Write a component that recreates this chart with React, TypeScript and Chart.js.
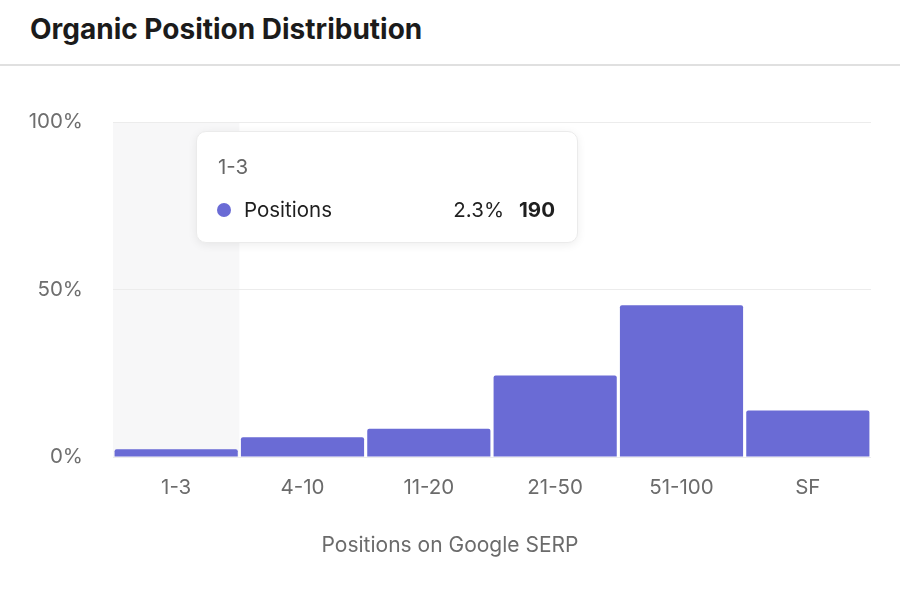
import { useEffect, useRef, useState } from 'react';
import { Chart, registerables } from 'chart.js';

Chart.register(...registerables);

// Values
const positionRanges = ['1-3', '4-10', '11-20', '21-50', '51-100', 'SF'];
const positionShares = [2.3, 5.9, 8.4, 24.3, 45.3, 13.9];
const positionCounts = [190, 487, 694, 2007, 3742, 1148];
const yTicks = [0, 50, 100];

const BAR_COLOR = '#6a6bd5';
const FONT = 'Inter, "Noto Sans", sans-serif';

// draws the light band behind the hovered category
const hoverBand = {
  id: 'hoverBand',
  beforeDraw(chart: Chart) {
    const active = chart.getActiveElements();
    if (!active.length) return;
    const { ctx, chartArea } = chart;
    const x = chart.scales.x;
    const step = (x.right - x.left) / positionRanges.length;
    const cx = x.getPixelForValue(active[0].index);
    ctx.save();
    ctx.fillStyle = '#f7f7f8';
    ctx.fillRect(cx - step / 2, chartArea.top, step, chartArea.bottom - chartArea.top);
    ctx.restore();
  },
};

interface TipState {
  index: number;
  left: number;
  top: number;
}

export default function App() {
  const canvasRef = useRef<HTMLCanvasElement>(null);
  const chartRef = useRef<Chart | null>(null);
  const [tip, setTip] = useState<TipState | null>(null);

  useEffect(() => {
    if (!canvasRef.current) return;
    const ctx = canvasRef.current.getContext('2d');
    if (!ctx) return;

    chartRef.current = new Chart(ctx, {
      type: 'bar',
      data: {
        labels: positionRanges,
        datasets: [
          {
            label: 'Positions',
            data: positionShares,
            backgroundColor: BAR_COLOR,
            hoverBackgroundColor: BAR_COLOR,
            borderRadius: 2,
            barPercentage: 0.975,
            categoryPercentage: 1,
          },
        ],
      },
      options: {
        responsive: true,
        maintainAspectRatio: false,
        animation: false,
        events: [],
        layout: { padding: { top: 55, right: 29, bottom: 91, left: 0 } },
        plugins: {
          legend: { display: false },
          tooltip: {
            enabled: false,
            external: ({ chart, tooltip }) => {
              if (!tooltip.opacity || !tooltip.dataPoints?.length) return;
              const index = tooltip.dataPoints[0].dataIndex;
              const left = Math.round(chart.scales.x.getPixelForValue(index) + 20);
              const top = Math.round(chart.chartArea.top + 9);
              setTip((prev) =>
                prev && prev.index === index && prev.left === left && prev.top === top
                  ? prev
                  : { index, left, top }
              );
            },
          },
        },
        scales: {
          x: {
            afterFit: (scale) => {
              scale.height = 60;
            },
            grid: { display: false },
            border: { display: false },
            ticks: {
              padding: 11,
              color: '#6b6b6b',
              font: { family: FONT, size: 20.5 },
            },
          },
          y: {
            min: 0,
            max: 100,
            afterFit: (scale) => {
              scale.width = 113;
            },
            afterBuildTicks: (scale) => {
              scale.ticks = yTicks.map((value) => ({ value }));
            },
            grid: { color: '#ececec', drawTicks: false },
            border: { display: false },
            ticks: {
              padding: 30,
              color: '#6e6e6e',
              font: { family: FONT, size: 20.5 },
              callback: (v) => `${v}%`,
            },
          },
        },
      },
      plugins: [hoverBand],
    });

    const chart = chartRef.current;
    const active = [{ datasetIndex: 0, index: 0 }];
    chart.setActiveElements(active);
    chart.tooltip?.setActiveElements(active, { x: 175, y: 300 });
    chart.update();

    return () => {
      chart.destroy();
      chartRef.current = null;
    };
  }, []);

  return (
    <div
      style={{
        position: 'fixed',
        left: 0,
        top: 0,
        width: 900,
        height: 608,
        background: '#fff',
        fontFamily: FONT,
        overflow: 'hidden',
      }}
    >
      <div
        style={{
          position: 'absolute',
          left: 30,
          top: 11,
          fontSize: 28,
          lineHeight: '36px',
          fontWeight: 700,
          color: '#1b1b1b',
        }}
      >
        Organic Position Distribution
      </div>
      <div
        style={{
          position: 'absolute',
          left: 0,
          top: 64,
          width: 900,
          height: 2,
          background: '#e0e0e0',
        }}
      />
      <div style={{ position: 'absolute', left: 0, top: 67, width: 900, height: 541 }}>
        <canvas ref={canvasRef} />
        {tip && (
          <div
            style={{
              position: 'absolute',
              left: tip.left,
              top: tip.top,
              width: 382,
              height: 112,
              boxSizing: 'border-box',
              background: '#fff',
              border: '1px solid #ebebeb',
              borderRadius: 10,
              boxShadow: '0 2px 10px rgba(0,0,0,0.07)',
              fontSize: 20.5,
            }}
          >
            <div style={{ position: 'absolute', left: 21, top: 22, color: '#666', lineHeight: '26px' }}>
              {positionRanges[tip.index]}
            </div>
            <div
              style={{
                position: 'absolute',
                left: 20,
                right: 22,
                top: 65,
                display: 'flex',
                alignItems: 'center',
                lineHeight: '26px',
                color: '#1f1f1f',
              }}
            >
              <span
                style={{
                  width: 14,
                  height: 14,
                  borderRadius: '50%',
                  background: BAR_COLOR,
                  marginRight: 13,
                }}
              />
              <span style={{ flex: 1 }}>Positions</span>
              <span>{positionShares[tip.index]}%</span>
              <span style={{ fontWeight: 700, marginLeft: 15 }}>{positionCounts[tip.index]}</span>
            </div>
          </div>
        )}
      </div>
      {/* x-axis title, centred on the whole card as in the reference */}
      <div
        style={{
          position: 'absolute',
          left: 0,
          top: 531,
          width: 900,
          textAlign: 'center',
          fontSize: 21,
          lineHeight: '28px',
          color: '#6b6b6b',
        }}
      >
        Positions on Google SERP
      </div>
    </div>
  );
}
